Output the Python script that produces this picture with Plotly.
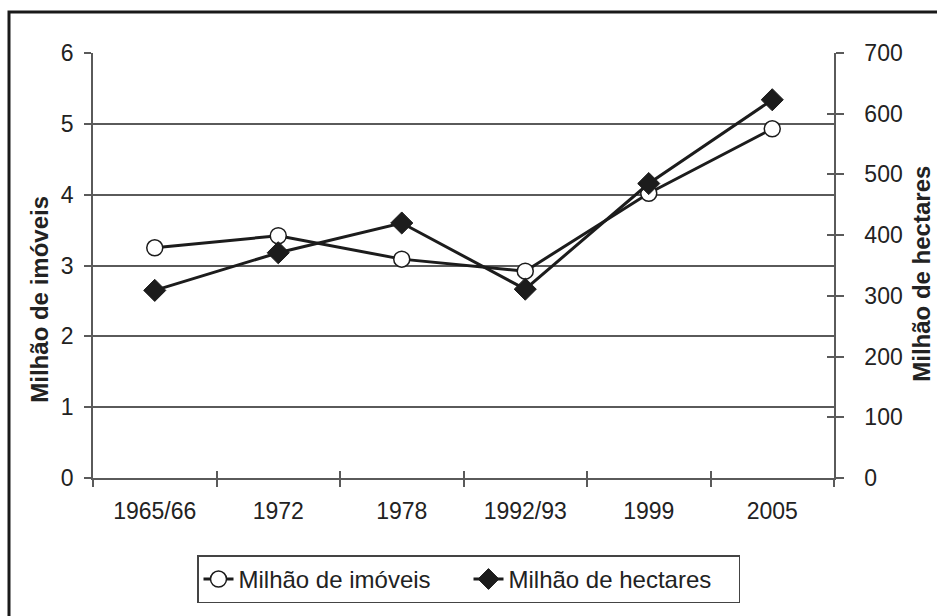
import plotly.graph_objects as go

# ─── 数据 ───
periodos = ['1965/66', '1972', '1978', '1992/93', '1999', '2005']
imoveis = [3.25, 3.42, 3.09, 2.92, 4.02, 4.93]       # milhão de imóveis (eixo esquerdo)
hectares = [309, 371, 420, 311, 485, 623]            # milhão de hectares (eixo direito)

FONT = 'Liberation Sans, Arial, sans-serif'
TXT = '#222222'
LINE = '#1c1c1c'
GRID = '#5a5a5a'

W, H = 937, 616
PL, PR, PT, PB = 93, 834, 53, 478.5          # área do gráfico, em px
L, R, T, B = PL, W - PR, PT, H - PB


def px_x(p):
    return (p - PL) / (PR - PL)


def px_y(p):
    return (PB - p) / (PB - PT)


fig = go.Figure()

fig.add_trace(go.Scatter(
    x=periodos, y=imoveis, mode='lines+markers', name='Milhão de imóveis',
    line=dict(color=LINE, width=3),
    marker=dict(symbol='circle', size=16, color='white',
                line=dict(color=LINE, width=1.5)),
))
fig.add_trace(go.Scatter(
    x=periodos, y=hectares, mode='lines+markers', name='Milhão de hectares',
    yaxis='y2',
    line=dict(color=LINE, width=3),
    marker=dict(symbol='diamond', size=17, color=LINE,
                line=dict(color=LINE, width=1)),
))

# pequenos traços internos (ticks cruzados) via eixos sobrepostos
bounds = [i - 0.5 for i in range(len(periodos) + 1)]

fig.update_layout(
    width=W, height=H,
    margin=dict(l=L, r=R, t=T, b=B),
    paper_bgcolor='white', plot_bgcolor='white',
    font=dict(family=FONT, size=23, color=TXT),
    showlegend=True,
    xaxis=dict(
        type='category', range=[-0.5, len(periodos) - 0.5],
        tickson='boundaries', ticks='outside', ticklen=7, tickwidth=1.5,
        tickcolor=GRID, showline=True, linecolor=GRID, linewidth=1.5,
        showgrid=False, ticklabelstandoff=12,
    ),
    xaxis2=dict(
        overlaying='x', anchor='y', range=[-0.5, len(periodos) - 0.5],
        tickvals=bounds, ticks='inside', ticklen=7, tickwidth=1.5,
        tickcolor=GRID, showticklabels=False, showgrid=False, showline=False,
        zeroline=False,
    ),
    yaxis=dict(
        range=[0, 6], dtick=1, ticks='outside', ticklen=7, tickwidth=1.5,
        tickcolor=GRID, showline=True, linecolor=GRID, linewidth=1.5,
        showgrid=True, gridcolor=GRID, gridwidth=1.5, zeroline=False,
        ticklabelstandoff=6,
    ),
    yaxis2=dict(
        range=[0, 700], dtick=100, overlaying='y', side='right',
        ticks='outside', ticklen=8, tickwidth=1.5, tickcolor=GRID,
        showline=True, linecolor=GRID, linewidth=1.5, showgrid=False,
        zeroline=False, ticklabelstandoff=16,
    ),
    yaxis3=dict(
        range=[0, 700], tickvals=list(range(0, 701, 100)), overlaying='y',
        anchor='x', side='right', ticks='inside', ticklen=7, tickwidth=1.5,
        tickcolor=GRID, showticklabels=False, showgrid=False, showline=False,
        zeroline=False,
    ),
    legend=dict(
        orientation='h', x=px_x(468.5), xanchor='center',
        y=px_y(556), yanchor='top',
        bordercolor='#444444', borderwidth=1.5, bgcolor='white',
        font=dict(family=FONT, size=24, color=TXT),
        itemwidth=30, tracegroupgap=0, entrywidth=225,
    ),
    annotations=[
        dict(text='<b>Milhão de imóveis</b>', textangle=-90,
             xref='paper', yref='paper', x=px_x(40), y=px_y(300),
             xanchor='center', yanchor='middle',
             showarrow=False, font=dict(size=24, color=TXT)),
        dict(text='<b>Milhão de hectares</b>', textangle=-90,
             xref='paper', yref='paper', x=px_x(922), y=px_y(274),
             xanchor='center', yanchor='middle',
             showarrow=False, font=dict(size=24, color=TXT)),
    ],
    shapes=[
        dict(type='rect', xref='paper', yref='paper',
             x0=px_x(9), x1=px_x(990), y0=px_y(700), y1=px_y(12),
             line=dict(color='#1a1a1a', width=3), layer='below'),
    ],
)

# eixos sobrepostos precisam de um traço para serem desenhados
fig.add_trace(go.Scatter(x=[0], y=[0], xaxis='x2', mode='none',
                         showlegend=False, hoverinfo='skip'))
fig.add_trace(go.Scatter(x=periodos, y=hectares, yaxis='y3', mode='none',
                         showlegend=False, hoverinfo='skip'))

# sem margem no body, para o gráfico ocupar a janela inteira
fig.write_html('out.html',
               config={'displayModeBar': False},
               post_script="document.body.style.margin='0';"
                           "document.body.style.overflow='hidden';")
